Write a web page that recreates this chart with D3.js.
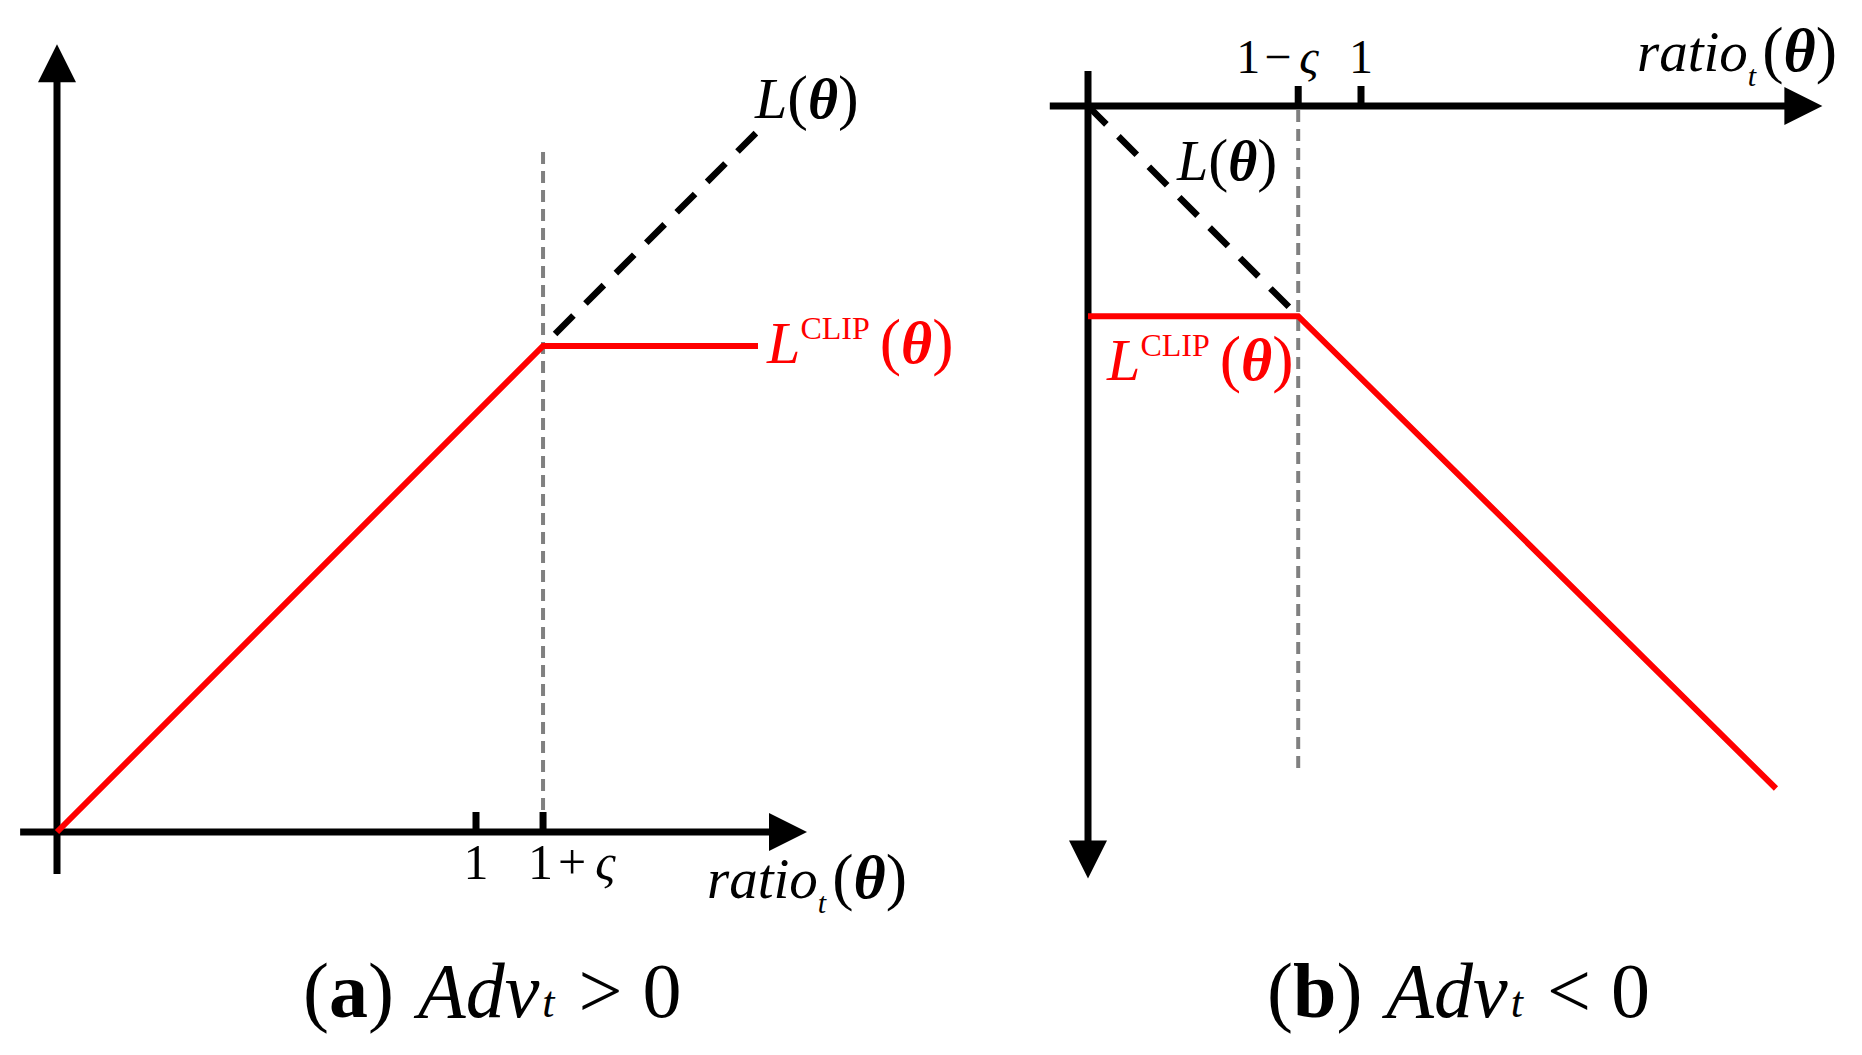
<!DOCTYPE html>
<html>
<head>
<meta charset="utf-8">
<script src="https://cdn.jsdelivr.net/npm/d3@7"></script>
<style>
    body { margin: 0; background: #ffffff; }
    svg { display: block; }
    text { font-family: "Liberation Serif", "Times New Roman", "DejaVu Serif", serif; }
</style>
</head>
<body>
<svg id="chart" width="1862" height="1055"></svg>
<script>
/**
 * Panel (a): Adv_t > 0, values in ratio units.
 */
const clipRatioA = [0, 1.16, 1.673];
const clipLossA = [0, 1.16, 1.16];
const lossRatioA = [1.16, 1.673];
const lossA = [1.16, 1.673];
const tickValuesA = [1, 1.16];
const tickLabelsA = ["1", "1+ς"];
const axisXExtentA = [-0.088, 1.79];
const axisYExtentA = [-0.1, 1.88];
const guideExtentA = [0, 1.635];

/**
 * Panel (b): Adv_t < 0.
 */
const clipRatioB = [0, 0.77, 2.52];
const clipLossB = [-0.77, -0.77, -2.5];
const lossRatioB = [0, 0.77];
const lossB = [0, -0.77];
const tickValuesB = [0.77, 1];
const tickLabelsB = ["1−ς", "1"];
const axisXExtentB = [-0.14, 2.69];
const axisYExtentB = [0.128, -2.83];
const guideExtentB = [0, -2.45];

const red = "#FF0000";
const grey = "#808080";
const arrowSize = 38;

let svg = d3.select("#chart");

/**
 * Draws a thick axis line ending in a filled triangle at (x2, y2).
 */
function arrow(g, x1, y1, x2, y2) {
    let len = Math.hypot(x2 - x1, y2 - y1);
    let ux = (x2 - x1) / len, uy = (y2 - y1) / len;
    let bx = x2 - ux * arrowSize, by = y2 - uy * arrowSize;
    g.append("line")
        .attr("x1", x1).attr("y1", y1)
        .attr("x2", bx + ux * 2).attr("y2", by + uy * 2)
        .attr("stroke", "#000").attr("stroke-width", 7);
    let half = 19;
    g.append("path")
        .attr("d", "M" + x2 + "," + y2 +
            "L" + (bx - uy * half) + "," + (by + ux * half) +
            "L" + (bx + uy * half) + "," + (by - ux * half) + "Z")
        .attr("fill", "#000");
}

/**
 * Writes a label made of several styled pieces.
 */
function label(g, x, y, parts, color, anchor) {
    let t = g.append("text")
        .attr("x", x).attr("y", y)
        .attr("fill", color || "#000")
        .attr("text-anchor", anchor || "start");
    parts.forEach(function (p) {
        t.append("tspan")
            .attr("dx", p.dx || 0)
            .attr("dy", p.dy || 0)
            .attr("font-size", p.size)
            .attr("font-style", p.italic ? "italic" : "normal")
            .attr("font-weight", p.bold ? "bold" : "normal")
            .text(p.t);
    });
    return t;
}

/**
 * Draws the curves, axes, ticks and guide of one panel.
 */
function drawPanel(x, y, d) {
    let g = svg.append("g");
    let line = d3.line()
        .x(function (p) { return x(p[0]); })
        .y(function (p) { return y(p[1]); });

    // axes
    arrow(g, x(d.axisX[0]), y(0), x(d.axisX[1]), y(0));
    arrow(g, x(0), y(d.axisY[0]), x(0), y(d.axisY[1]));

    // ticks (pointing up)
    g.selectAll(".tick")
        .data(d.ticks)
        .enter().append("line")
        .attr("class", "tick")
        .attr("x1", function (v) { return x(v); })
        .attr("x2", function (v) { return x(v); })
        .attr("y1", y(0))
        .attr("y2", y(0) - 20)
        .attr("stroke", "#000")
        .attr("stroke-width", 7);

    // grey guide at the clip point
    g.append("line")
        .attr("x1", x(d.guideAt)).attr("x2", x(d.guideAt))
        .attr("y1", y(d.guide[0]) + (d.guide[1] > 0 ? -22 : 4))
        .attr("y2", y(d.guide[1]))
        .attr("stroke", grey)
        .attr("stroke-width", 4)
        .attr("stroke-dasharray", "12,7");

    // unclipped objective
    g.append("path")
        .datum(d3.zip(d.lossRatio, d.loss))
        .attr("d", line)
        .attr("fill", "none")
        .attr("stroke", "#000")
        .attr("stroke-width", 6.5)
        .attr("stroke-dasharray", "26,17")
        .attr("stroke-dashoffset", d.dashOffset);

    // clipped objective
    g.append("path")
        .datum(d3.zip(d.clipRatio, d.clipLoss))
        .attr("d", line)
        .attr("fill", "none")
        .attr("stroke", red)
        .attr("stroke-width", 6)
        .attr("stroke-linejoin", "miter");
    return g;
}

// panel (a)
let xA = d3.scaleLinear().domain([0, 1]).range([57, 476]);
let yA = d3.scaleLinear().domain([0, 1]).range([832, 413]);
let gA = drawPanel(xA, yA, {
    clipRatio: clipRatioA, clipLoss: clipLossA,
    lossRatio: lossRatioA, loss: lossA,
    ticks: tickValuesA, axisX: axisXExtentA, axisY: axisYExtentA,
    guideAt: tickValuesA[1], guide: guideExtentA,
    dashOffset: 26
});

// panel (b)
let xB = d3.scaleLinear().domain([0, 1]).range([1088, 1361]);
let yB = d3.scaleLinear().domain([0, -1]).range([106, 379]);
let gB = drawPanel(xB, yB, {
    clipRatio: clipRatioB, clipLoss: clipLossB,
    lossRatio: lossRatioB, loss: lossB,
    ticks: tickValuesB, axisX: axisXExtentB, axisY: axisYExtentB,
    guideAt: tickValuesB[0], guide: guideExtentB,
    dashOffset: 0
});

// tick labels (a): the "1" of each label sits under its tick
label(gA, xA(tickValuesA[0]), yA(0) + 47, [{t: tickLabelsA[0], size: 50}], "#000", "middle");
label(gA, xA(tickValuesA[1]) - 15, yA(0) + 47, [
    {t: tickLabelsA[1].charAt(0), size: 50},
    {t: tickLabelsA[1].charAt(1), size: 50, dx: 5},
    {t: tickLabelsA[1].charAt(2), size: 50, italic: true, dx: 9}
]);
// tick labels (b)
label(gB, xB(tickValuesB[0]) - 62, yB(0) - 33, [
    {t: tickLabelsB[0].charAt(0), size: 48},
    {t: tickLabelsB[0].charAt(1), size: 48, dx: 4},
    {t: tickLabelsB[0].charAt(2), size: 48, italic: true, dx: 8}
]);
label(gB, xB(tickValuesB[1]), yB(0) - 33, [{t: tickLabelsB[1], size: 48}], "#000", "middle");

/**
 * Pieces for "ratio_t(θ)".
 */
function ratioParts() {
    return [
        {t: "ratio", size: 57, italic: true},
        {t: "t", size: 30, italic: true, dy: 15},
        {t: "(", size: 64, dx: 6, dy: -15},
        {t: "θ", size: 62, italic: true, bold: true},
        {t: ")", size: 64}
    ];
}

/**
 * Pieces for "L(θ)" and "L^CLIP(θ)".
 */
function lossParts(size) {
    return [
        {t: "L", size: size, italic: true},
        {t: "(", size: size + 4},
        {t: "θ", size: size, italic: true, bold: true},
        {t: ")", size: size + 4}
    ];
}

function clipParts() {
    return [
        {t: "L", size: 60, italic: true},
        {t: "CLIP", size: 32, dy: -24},
        {t: "(", size: 64, dx: 10, dy: 24},
        {t: "θ", size: 60, italic: true, bold: true},
        {t: ")", size: 64}
    ];
}

label(gA, 707, 898, ratioParts());
label(gB, 1637, 71, ratioParts());

label(gA, 755, 118, lossParts(58));
label(gB, 1177, 180, lossParts(56));

label(gA, 767, 363, clipParts(), red);
label(gB, 1107, 380, clipParts(), red);

/**
 * Captions under the panels.
 */
function captionParts(letter, sign) {
    return [
        {t: "(", size: 78},
        {t: letter, size: 78, bold: true},
        {t: ")", size: 78},
        {t: "A", size: 78, italic: true, dx: 24},
        {t: "dv", size: 78, italic: true},
        {t: "t", size: 44, italic: true, dx: 3},
        {t: sign, size: 78, dx: 24},
        {t: "0", size: 78, dx: 20}
    ];
}
label(svg, 303, 1017, captionParts("a", ">"));
label(svg, 1267, 1017, captionParts("b", "<"));
</script>
</body>
</html>
